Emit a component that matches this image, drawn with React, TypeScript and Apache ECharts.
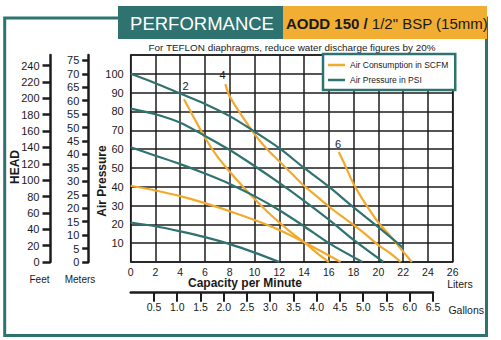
import React, { useEffect, useRef } from 'react';
import * as echarts from 'echarts';

// ---- data (liters per minute, psi / scfm scale) ----
const pressure100 = [[0, 100], [2, 95], [4, 89.5], [6, 84], [8, 77.5], [10, 69.3], [12, 60.5], [14, 50], [16, 40], [18, 29], [20, 18.5], [22, 7.5]];
const pressure80 = [[0, 81.5], [2, 78.5], [4, 74], [6, 67], [8, 59.5], [10, 51], [12, 42], [14, 32.5], [16, 22.5], [18, 11.7], [20.4, 0]];
const pressure60 = [[0, 61], [2, 56.5], [4, 52], [6, 47], [8, 41.5], [10, 35], [12, 27.5], [14, 19], [16, 10], [18.7, 0]];
const pressure40 = [[0, 40.5], [2, 38], [4, 35], [6, 31.3], [8, 27], [10, 22.3], [12, 17], [14, 10.5], [16, 3.5], [16.95, 0]];
const pressure20 = [[0, 21], [2, 19], [4, 16.3], [6, 13.2], [8, 9.5], [10, 5], [12, 0]];
const air2 = [[4.3, 86.5], [5, 78], [6, 66], [7, 56], [8, 48], [9, 40.5], [10, 33.5], [11, 27], [12, 21], [13, 15.5], [14, 10.5], [15, 5], [16, 0]];
const air4 = [[7.64, 94.5], [8, 88], [9, 77.5], [10, 68], [11, 60], [12, 53.5], [13, 47], [14, 40.5], [15, 35], [16, 29.5], [17, 24.5], [18, 19.7], [19, 14.5], [20, 9], [21, 4.5], [21.8, 0]];
const air6 = [[16.8, 58.5], [17.2, 53], [18, 41.5], [19, 30.5], [20, 21], [21, 13.5], [22, 5.5], [22.7, 0]];
const airLabels = ['2', '4', '6'];

const legendNames = ['Air Consumption in SCFM', 'Air Pressure in PSI'];

const TEAL = '#2e7370';
const ORANGE = '#f3aa2c';
const DARK = '#1c1c1c';
const TEXT = '#1a1a1a';
const FONT = 'Liberation Sans, Arial, sans-serif';

function curve(name: string, color: string, data: number[][], label?: string, off?: number[]) {
  const s: any = {
    type: 'line',
    name,
    data,
    xAxisIndex: 0,
    yAxisIndex: 0,
    smooth: 0.3,
    symbol: 'none',
    silent: true,
    lineStyle: { color, width: 2.2 },
    itemStyle: { color },
  };
  if (label) {
    s.markPoint = {
      symbol: 'circle',
      symbolSize: 0,
      silent: true,
      data: [{
        coord: data[0],
        label: { show: true, position: 'inside', formatter: label, offset: off, color: TEXT, fontSize: 11, fontFamily: FONT },
      }],
    };
  }
  return s;
}

export default function App() {
  const ref = useRef<HTMLDivElement>(null);
  useEffect(() => {
    const chart = echarts.init(ref.current!, null, { renderer: 'svg' });
    const option: any = {
      animation: false,
      textStyle: { fontFamily: FONT, color: TEXT },
      grid: [
        { left: 130.7, top: 55, width: 322, height: 207, show: true, borderColor: DARK, borderWidth: 1.5, backgroundColor: 'transparent' },
        { left: 130.7, top: 282, width: 302.3, height: 10.7, show: false },
      ],
      xAxis: [
        {
          type: 'value', gridIndex: 0, min: 0, max: 26, interval: 2,
          axisLine: { show: false }, axisTick: { show: false },
          splitLine: { show: true, lineStyle: { color: DARK, width: 1.5 } },
          axisLabel: { margin: 4, fontSize: 10.5, color: TEXT },
        },
        {
          type: 'value', gridIndex: 1, min: 0, max: 6.5, interval: 0.5, position: 'bottom',
          axisLine: { show: true, lineStyle: { color: DARK, width: 2.5 } },
          axisTick: { show: true, length: 9, lineStyle: { color: DARK, width: 2 } },
          splitLine: { show: false },
          axisLabel: { showMinLabel: false, margin: 9, fontSize: 10.5, color: TEXT, formatter: (v: number) => v.toFixed(1) },
        },
      ],
      yAxis: [
        {
          type: 'value', gridIndex: 0, min: 0, max: 110, interval: 10, position: 'left',
          axisLine: { show: false }, axisTick: { show: false },
          splitLine: { show: true, lineStyle: { color: DARK, width: 1.5 } },
          axisLabel: { showMinLabel: false, showMaxLabel: false, margin: 7, fontSize: 11, color: TEXT },
        },
        {
          type: 'value', gridIndex: 0, min: 0, max: 253, interval: 20, position: 'left', offset: 80.2,
          axisLine: { show: true, lineStyle: { color: DARK, width: 2.5 } },
          axisTick: { show: true, length: 8, lineStyle: { color: DARK, width: 2.5 } },
          splitLine: { show: false },
          axisLabel: { showMaxLabel: false, margin: 11, fontSize: 11, color: TEXT },
        },
        {
          type: 'value', gridIndex: 0, min: 0, max: 77, interval: 5, position: 'left', offset: 42,
          axisLine: { show: true, lineStyle: { color: DARK, width: 2.5 } },
          axisTick: { show: true, length: 6.5, lineStyle: { color: DARK, width: 2.5 } },
          splitLine: { show: false },
          axisLabel: { showMaxLabel: false, margin: 9.4, fontSize: 11, color: TEXT },
        },
        { type: 'value', gridIndex: 1, show: false, min: 0, max: 1 },
      ],
      legend: {
        left: 323, top: 54, orient: 'vertical', icon: 'rect', itemWidth: 17, itemHeight: 2.5, itemGap: 5,
        padding: [6, 7, 5, 5], borderColor: TEAL, borderWidth: 2.5, backgroundColor: '#fff',
        selectedMode: false, data: legendNames,
        textStyle: { fontSize: 8.5, color: TEXT, lineHeight: 10, fontFamily: FONT },
      },
      series: [
        curve(legendNames[0], ORANGE, air2, airLabels[0], [1.7, -13]),
        curve(legendNames[0], ORANGE, air4, airLabels[1], [-2.7, -9.5]),
        curve(legendNames[0], ORANGE, air6, airLabels[2], [-0.6, -7.5]),
        curve(legendNames[0], ORANGE, pressure40),
        curve(legendNames[1], TEAL, pressure100),
        curve(legendNames[1], TEAL, pressure80),
        curve(legendNames[1], TEAL, pressure60),
        curve(legendNames[1], TEAL, pressure20),
      ],
      graphic: [
        { type: 'rect', shape: { x: 4.7, y: 18, width: 481.8, height: 317.5 }, style: { fill: 'none', stroke: TEAL, lineWidth: 3 }, z: 10 },
        { type: 'rect', shape: { x: 118, y: 6, width: 165, height: 33 }, style: { fill: TEAL }, z: 11 },
        { type: 'rect', shape: { x: 283, y: 6, width: 204, height: 33 }, style: { fill: '#f1ae33' }, z: 11 },
        { type: 'text', x: 202, y: 23, z: 12, style: { text: 'PERFORMANCE', fill: '#fff', fontSize: 18.5, fontFamily: FONT, align: 'center', verticalAlign: 'middle' } },
        {
          type: 'text', x: 286, y: 23, z: 12,
          style: {
            text: '{b|AODD 150 /} {n|1/2" BSP (15mm)}', align: 'left', verticalAlign: 'middle', fontFamily: FONT, fontSize: 15,
            rich: { b: { fontWeight: 'bold', fontSize: 15, fontFamily: FONT, fill: TEXT }, n: { fontSize: 15, fontFamily: FONT, fill: TEXT } },
          },
        },
        { type: 'text', x: 292, y: 47.7, z: 12, style: { text: 'For TEFLON diaphragms, reduce water discharge figures by 20%', fill: TEXT, fontSize: 9.9, fontFamily: FONT, align: 'center', verticalAlign: 'middle' } },
        { type: 'text', x: 15.3, y: 167, rotation: Math.PI / 2, z: 12, style: { text: 'HEAD', fill: TEXT, fontSize: 12, fontWeight: 'bold', fontFamily: FONT, align: 'center', verticalAlign: 'middle' } },
        { type: 'text', x: 102, y: 181, rotation: Math.PI / 2, z: 12, style: { text: 'Air Pressure', fill: TEXT, fontSize: 12, fontWeight: 'bold', fontFamily: FONT, align: 'center', verticalAlign: 'middle' } },
        { type: 'text', x: 39.5, y: 279, z: 12, style: { text: 'Feet', fill: TEXT, fontSize: 10, fontFamily: FONT, align: 'center', verticalAlign: 'middle' } },
        { type: 'text', x: 80, y: 279, z: 12, style: { text: 'Meters', fill: TEXT, fontSize: 10, fontFamily: FONT, align: 'center', verticalAlign: 'middle' } },
        { type: 'text', x: 245, y: 283, z: 12, style: { text: 'Capacity per Minute', fill: TEXT, fontSize: 12, fontWeight: 'bold', fontFamily: FONT, align: 'center', verticalAlign: 'middle' } },
        { type: 'text', x: 460, y: 284, z: 12, style: { text: 'Liters', fill: TEXT, fontSize: 10.5, fontFamily: FONT, align: 'center', verticalAlign: 'middle' } },
        { type: 'text', x: 484, y: 310, z: 12, style: { text: 'Gallons', fill: TEXT, fontSize: 10.5, fontFamily: FONT, align: 'right', verticalAlign: 'middle' } },
      ],
    };
    chart.setOption(option);
    return () => chart.dispose();
  }, []);
  return <div ref={ref} style={{ position: 'absolute', left: 0, top: 0, width: 501, height: 340 }} />;
}
